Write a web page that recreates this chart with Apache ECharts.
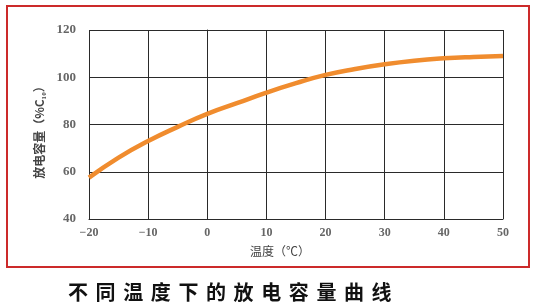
<!DOCTYPE html>
<html><head><meta charset="utf-8">
<script src="https://cdn.jsdelivr.net/npm/echarts@6/dist/echarts.min.js"></script>
<style>html,body{margin:0;padding:0;background:#fff}#c{width:539px;height:305px}</style>
</head><body><div id="c"></div>
<script>
var temps = [-20,-15,-10,-5,0,5,10,15,20,25,30,35,40,45,50];
var capacity = [57.5,66,73,79,84.5,89,93.5,97.5,101,103.5,105.5,107,108,108.6,109];
var xTicks = [-20,-10,0,10,20,30,40,50];
var yTicks = [40,60,80,100,120];
var chartTitle = '不同温度下的放电容量曲线';
var xName = '温度（℃）';
var yName = '放电容量（%C₁₀）';

var chart = echarts.init(document.getElementById('c'), null, {renderer:'canvas'});
var serif = 'Liberation Serif, DejaVu Serif, serif';
var cjk = 'Noto Sans CJK SC';
var titleChars = chartTitle.split('').map(function(ch, i){
  return {type:'text', x:68 + i*27.6, y:292, silent:true,
    style:{text:ch, fontSize:20, fontWeight:'bold', fill:'#111', fontFamily:cjk,
      align:'left', verticalAlign:'middle'}};
});
chart.setOption({
  animation:false,
  backgroundColor:'#fff',
  grid:{left:89,top:30,width:414,height:189,containLabel:false},
  xAxis:{type:'value',min:-20,max:50,interval:10,
    name:xName,nameLocation:'middle',nameGap:26,
    nameTextStyle:{fontSize:12,color:'#444',fontFamily:cjk,padding:[0,32,0,0]},
    axisLine:{show:true,lineStyle:{color:'#2a2a2a',width:1}},
    axisTick:{show:false},
    axisLabel:{margin:8,fontSize:12,fontWeight:'bold',color:'#666',fontFamily:serif,formatter:function(v){return v<0?'\u2212'+(-v):String(v);}},
    splitLine:{show:true,lineStyle:{color:'#2a2a2a',width:1}}},
  yAxis:{type:'value',min:40,max:120,interval:20,
    name:yName,nameLocation:'middle',nameGap:41,nameRotate:90,
    nameTextStyle:{fontSize:12,fontWeight:'bold',color:'#444',fontFamily:cjk,padding:[0,0,0,-10]},
    axisLine:{show:true,lineStyle:{color:'#2a2a2a',width:1}},
    axisTick:{show:false},
    axisLabel:{margin:13,fontSize:13,fontWeight:'bold',color:'#666',fontFamily:serif},
    splitLine:{show:true,lineStyle:{color:'#2a2a2a',width:1}}},
  series:[{type:'line',smooth:true,symbol:'none',
    data:temps.map(function(t,i){return [t,capacity[i]];}),
    lineStyle:{color:'#f08c2e',width:4.5}}],
  graphic:[{type:'rect',shape:{x:7,y:6,width:522,height:261},
    style:{fill:'none',stroke:'#cc2a2a',lineWidth:2},silent:true}].concat(titleChars)
});
</script></body></html>
